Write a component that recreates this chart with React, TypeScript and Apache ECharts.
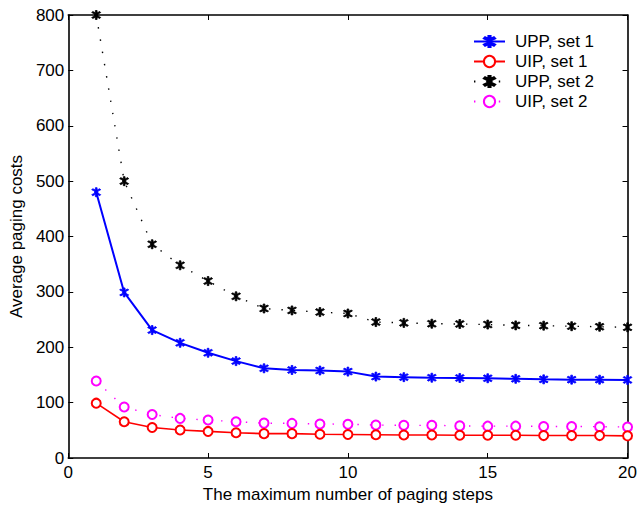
import React, { useEffect, useRef } from "react";
import * as echarts from "echarts";

const steps = [1, 2, 3, 4, 5, 6, 7, 8, 9, 10, 11, 12, 13, 14, 15, 16, 17, 18, 19, 20];
const uppSet1 = [480, 299, 231, 208, 190, 175, 162, 159, 158, 156, 147, 146, 145, 144.5, 144, 143, 142, 141.5, 141.5, 141];
const uipSet1 = [99, 65.5, 55, 50.5, 48, 45.5, 44, 44, 43, 42.5, 42, 41.5, 41.5, 41, 41, 41, 40.5, 40.5, 40.5, 40];
const uppSet2 = [800, 500, 386, 348, 319.5, 292, 270, 266.5, 263.5, 261, 245.5, 244, 242.5, 242, 241, 239.5, 239, 238, 237, 236];
const uipSet2 = [139, 92, 78.5, 71.5, 68.5, 65.5, 63, 62.5, 61.5, 61, 59.5, 59, 59, 58, 57.5, 57.5, 57, 57, 56.5, 56];

const FONT = "Liberation Sans";
const FS = 17;

const ASTERISK =
  "path://M4.3,0 L5.7,0 L5.7,2.6 L7.9,1.1 L8.7,2.3 L6.4,3.8 L6.4,6.2 L8.7,7.7 L7.9,8.9 L5.7,7.4 L5.7,10 L4.3,10 L4.3,7.4 L2.1,8.9 L1.3,7.7 L3.6,6.2 L3.6,3.8 L1.3,2.3 L2.1,1.1 L4.3,2.6 Z";

export default function App() {
  const ref = useRef<HTMLDivElement>(null);
  useEffect(() => {
    if (!ref.current) return;
    const chart = echarts.init(ref.current, null, { renderer: "svg" });
    const pairs = (ys: number[]) => steps.map((x, i) => [x, ys[i]]);
    const axisCommon = {
      axisLine: { show: true, onZero: false, lineStyle: { color: "#000", width: 1.6 } },
      axisTick: { show: true, inside: true, length: 5, lineStyle: { color: "#000", width: 1 } },
      splitLine: { show: false },
    };
    chart.setOption({
      animation: false,
      backgroundColor: "#fff",
      textStyle: { fontFamily: FONT },
      grid: { left: 67, right: 10, top: 15, bottom: 49, containLabel: false },
      legend: {
        orient: "vertical",
        left: 473,
        top: 33,
        padding: 0,
        itemWidth: 31,
        itemHeight: 14,
        itemGap: 3,
        textStyle: { fontFamily: FONT, fontSize: FS, color: "#000", padding: [0, 0, 0, 5] },
        data: ["UPP, set 1", "UIP, set 1", "UPP, set 2", "UIP, set 2"],
      },
      xAxis: [
        {
          ...axisCommon,
          type: "value",
          min: 0,
          max: 20,
          interval: 5,
          position: "bottom",
          name: "The maximum number of paging steps",
          nameLocation: "middle",
          nameGap: 28,
          nameTextStyle: { fontFamily: FONT, fontSize: FS, color: "#000" },
          axisLabel: { fontFamily: FONT, fontSize: FS, color: "#000", margin: 6 },
        },
        {
          ...axisCommon,
          type: "value",
          min: 0,
          max: 20,
          interval: 5,
          position: "top",
          axisLabel: { show: false },
        },
      ],
      yAxis: [
        {
          ...axisCommon,
          type: "value",
          min: 0,
          max: 800,
          interval: 100,
          position: "left",
          name: "Average paging costs",
          nameLocation: "middle",
          nameGap: 41,
          nameTextStyle: { fontFamily: FONT, fontSize: FS, color: "#000" },
          axisLabel: { fontFamily: FONT, fontSize: FS, color: "#000", margin: 4 },
        },
        {
          ...axisCommon,
          type: "value",
          min: 0,
          max: 800,
          interval: 100,
          position: "right",
          axisLabel: { show: false },
        },
      ],
      series: [
        {
          name: "UPP, set 1",
          type: "line",
          data: pairs(uppSet1),
          symbol: ASTERISK,
          symbolSize: 9,
          itemStyle: { color: "#0000ff", borderColor: "#0000ff", borderWidth: 0.8 },
          lineStyle: { color: "#0000ff", width: 2 },
          z: 4,
        },
        {
          name: "UIP, set 1",
          type: "line",
          data: pairs(uipSet1),
          symbol: "emptyCircle",
          symbolSize: 9,
          itemStyle: { color: "#ff0000", borderColor: "#ff0000", borderWidth: 1.6 },
          lineStyle: { color: "#ff0000", width: 1.6 },
          z: 3,
        },
        {
          name: "UPP, set 2",
          type: "line",
          data: pairs(uppSet2),
          symbol: ASTERISK,
          symbolSize: 9,
          itemStyle: { color: "#000", borderColor: "#000", borderWidth: 0.8 },
          lineStyle: { color: "#000", width: 1.4, type: [1.4, 11] },
          z: 2,
        },
        {
          name: "UIP, set 2",
          type: "line",
          data: pairs(uipSet2),
          symbol: "emptyCircle",
          symbolSize: 9,
          itemStyle: { color: "#ff00ff", borderColor: "#ff00ff", borderWidth: 1.6 },
          lineStyle: { color: "#ff00ff", width: 1.4, type: [1.4, 11] },
          z: 2,
        },
      ],
    });
    return () => chart.dispose();
  }, []);
  return <div ref={ref} style={{ width: 640, height: 508, position: "absolute", left: 0, top: 0 }} />;
}
